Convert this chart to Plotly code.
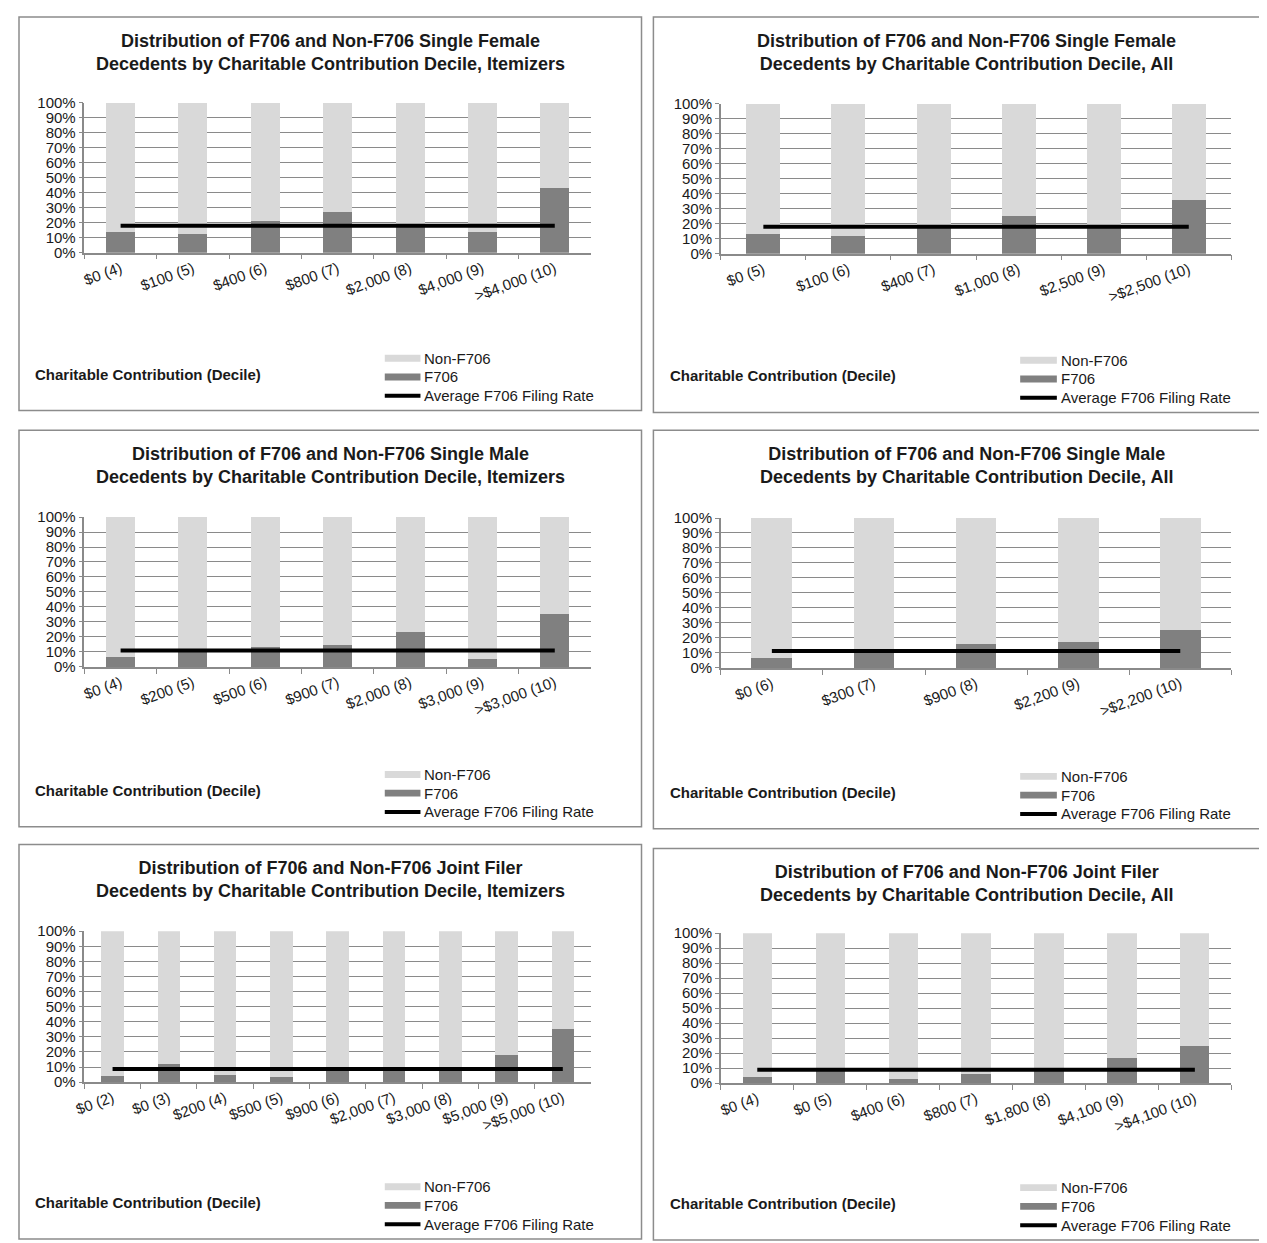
import plotly.graph_objects as go

# ---- data (F706 share by charitable contribution decile) ----
sf_item_labels = ["$0 (4)", "$100 (5)", "$400 (6)", "$800 (7)", "$2,000 (8)", "$4,000 (9)", ">$4,000 (10)"]
sf_item_f706 = [0.135, 0.125, 0.21, 0.27, 0.175, 0.135, 0.435]
sf_item_avg = 0.18

sf_all_labels = ["$0 (5)", "$100 (6)", "$400 (7)", "$1,000 (8)", "$2,500 (9)", ">$2,500 (10)"]
sf_all_f706 = [0.13, 0.12, 0.175, 0.25, 0.175, 0.355]
sf_all_avg = 0.18

sm_item_labels = ["$0 (4)", "$200 (5)", "$500 (6)", "$900 (7)", "$2,000 (8)", "$3,000 (9)", ">$3,000 (10)"]
sm_item_f706 = [0.065, 0.115, 0.13, 0.145, 0.23, 0.055, 0.355]
sm_item_avg = 0.11

sm_all_labels = ["$0 (6)", "$300 (7)", "$900 (8)", "$2,200 (9)", ">$2,200 (10)"]
sm_all_f706 = [0.065, 0.125, 0.16, 0.17, 0.25]
sm_all_avg = 0.113

jf_item_labels = ["$0 (2)", "$0 (3)", "$200 (4)", "$500 (5)", "$900 (6)", "$2,000 (7)",
                  "$3,000 (8)", "$5,000 (9)", ">$5,000 (10)"]
jf_item_f706 = [0.04, 0.12, 0.045, 0.033, 0.10, 0.10, 0.10, 0.18, 0.355]
jf_item_avg = 0.087

jf_all_labels = ["$0 (4)", "$0 (5)", "$400 (6)", "$800 (7)", "$1,800 (8)", "$4,100 (9)", ">$4,100 (10)"]
jf_all_f706 = [0.04, 0.10, 0.03, 0.063, 0.10, 0.165, 0.25]
jf_all_avg = 0.09

titles = [
    "Distribution of F706 and Non-F706 Single Female<br>Decedents by Charitable Contribution Decile, Itemizers",
    "Distribution of F706 and Non-F706 Single Female<br>Decedents by Charitable Contribution Decile, All",
    "Distribution of F706 and Non-F706 Single Male<br>Decedents by Charitable Contribution Decile, Itemizers",
    "Distribution of F706 and Non-F706 Single Male<br>Decedents by Charitable Contribution Decile, All",
    "Distribution of F706 and Non-F706 Joint Filer<br>Decedents by Charitable Contribution Decile, Itemizers",
    "Distribution of F706 and Non-F706 Joint Filer<br>Decedents by Charitable Contribution Decile, All",
]
panels = [
    (sf_item_labels, sf_item_f706, sf_item_avg),
    (sf_all_labels, sf_all_f706, sf_all_avg),
    (sm_item_labels, sm_item_f706, sm_item_avg),
    (sm_all_labels, sm_all_f706, sm_all_avg),
    (jf_item_labels, jf_item_f706, jf_item_avg),
    (jf_all_labels, jf_all_f706, jf_all_avg),
]

# the page has an 8px body margin, so the figure starts at (8, 8)
OFF = 8
FW, FH = 1267 - OFF, 1243 - OFF
FONT = "Liberation Sans, Arial, sans-serif"
LIGHT = "#d9d9d9"
DARK = "#808080"
GRID = "#8a8a8a"
TXT = "#1a1a1a"


def fx(px):
    # page pixel -> paper x
    return (px - OFF) / FW


def fy(py):
    # page pixel -> paper y
    return 1 - (py - OFF) / FH


# page layout of the six boxes (page pixels)
cols = [
    dict(box=(8, 636), plot=(74, 585), title_x=322, xt_x=22, sw=(377, 413)),
    dict(box=(648, 1300), plot=(716, 1231), title_x=964, xt_x=663, sw=(1018, 1055)),
]
box_top = [[8, 427, 847], [8, 427, 851]]
box_bot = [[407, 829, 1247], [409, 831, 1248]]
plot_top = [[95, 515, 935], [96, 516, 937]]
plot_bot = [[247, 667, 1088], [248, 668, 1089]]

fig = go.Figure()
shapes, annos = [], []

for i, (labels, f706, avg) in enumerate(panels):
    r, c = divmod(i, 2)
    col = cols[c]
    top, bot = box_top[c][r], box_bot[c][r]
    n = i + 1
    xa = "x" if n == 1 else f"x{n}"
    ya = "y" if n == 1 else f"y{n}"
    non = [1 - v for v in f706]

    fig.add_trace(go.Bar(x=labels, y=f706, name="F706", marker_color=DARK,
                         marker_line_width=0, xaxis=xa, yaxis=ya, showlegend=False))
    fig.add_trace(go.Bar(x=labels, y=non, name="Non-F706", marker_color=LIGHT,
                         marker_line_width=0, xaxis=xa, yaxis=ya, showlegend=False))
    fig.add_trace(go.Scatter(x=labels, y=[avg] * len(labels), mode="lines",
                             name="Average F706 Filing Rate",
                             line=dict(color="black", width=4),
                             xaxis=xa, yaxis=ya, showlegend=False))

    xkey = "xaxis" if n == 1 else f"xaxis{n}"
    ykey = "yaxis" if n == 1 else f"yaxis{n}"
    fig.layout[xkey] = dict(
        domain=[fx(col["plot"][0]), fx(col["plot"][1])], anchor=ya,
        type="category", tickson="boundaries", ticks="outside", ticklen=5,
        tickcolor=GRID, showline=True, linecolor=GRID, linewidth=1.5,
        tickangle=-20, tickfont=dict(size=15, color=TXT, family=FONT),
        showgrid=False, fixedrange=True,
    )
    fig.layout[ykey] = dict(
        domain=[fy(plot_bot[c][r]), fy(plot_top[c][r])], anchor=xa,
        range=[0, 1], dtick=0.1, tickformat=".0%",
        ticks="outside", ticklen=4, tickcolor=GRID,
        showline=True, linecolor=GRID, linewidth=1.5,
        showgrid=True, gridcolor=GRID, gridwidth=1.2, zeroline=False,
        tickfont=dict(size=15, color=TXT, family=FONT), fixedrange=True,
    )

    # box around each chart
    shapes.append(dict(type="rect", xref="paper", yref="paper",
                       x0=fx(col["box"][0]), x1=fx(col["box"][1]),
                       y0=fy(bot), y1=fy(top),
                       line=dict(color="#8c8c8c", width=1.5)))
    # title
    annos.append(dict(text="<b>" + titles[i] + "</b>", x=fx(col["title_x"]), y=fy(top + 36),
                      xref="paper", yref="paper", showarrow=False,
                      xanchor="center", yanchor="middle",
                      font=dict(size=18, color=TXT, family=FONT)))
    # axis title
    annos.append(dict(text="<b>Charitable Contribution (Decile)</b>",
                      x=fx(col["xt_x"]), y=fy(bot - 37), xref="paper", yref="paper",
                      showarrow=False, xanchor="left", yanchor="middle",
                      font=dict(size=15, color=TXT, family=FONT)))
    # legend
    sx0, sx1 = col["sw"]
    for k, (txt, colr) in enumerate([("Non-F706", LIGHT), ("F706", DARK),
                                     ("Average F706 Filing Rate", "black")]):
        yc = bot - 53 + k * 19
        if k < 2:
            shapes.append(dict(type="rect", xref="paper", yref="paper",
                               x0=fx(sx0), x1=fx(sx1), y0=fy(yc + 3.5), y1=fy(yc - 3.5),
                               fillcolor=colr, line=dict(width=0)))
        else:
            shapes.append(dict(type="line", xref="paper", yref="paper",
                               x0=fx(sx0), x1=fx(sx1), y0=fy(yc), y1=fy(yc),
                               line=dict(color="black", width=4)))
        annos.append(dict(text=txt, x=fx(sx1 + 2), y=fy(yc), xref="paper", yref="paper",
                          showarrow=False, xanchor="left", yanchor="middle",
                          font=dict(size=15, color=TXT, family=FONT)))

fig.update_layout(
    width=FW, height=FH, margin=dict(l=0, r=0, t=0, b=0),
    barmode="stack", bargap=0.6,
    paper_bgcolor="white", plot_bgcolor="white",
    font=dict(family=FONT, size=15, color=TXT),
    shapes=shapes, annotations=annos, showlegend=False,
)

fig.write_html("out.html")
